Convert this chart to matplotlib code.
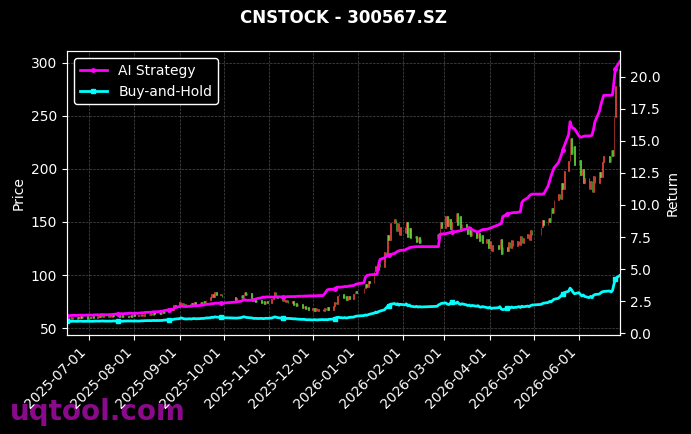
import matplotlib.pyplot as plt
import matplotlib.dates as mdates
import numpy as np
import pandas as pd

# trading calendar (weekdays minus exchange holidays)
start_date = '2025-06-16'
end_date = '2026-06-29'
holidays = ['2025-10-01', '2025-10-02', '2025-10-03', '2025-10-06', '2025-10-07',
            '2025-10-08', '2026-01-01', '2026-01-02', '2026-02-16', '2026-02-17',
            '2026-02-18', '2026-02-19', '2026-02-20', '2026-02-23', '2026-04-06',
            '2026-05-01', '2026-05-04', '2026-05-05', '2026-06-19']

first_open = 58.4
close = [
    57.6, 59.8, 58.2, 60.5, 58.9, 60.8, 59.1, 61.2, 59.6, 60.9,
    58.8, 60.6, 59.3, 61.4, 59.7, 61.6, 60.0, 62.1, 60.3, 61.9,
    60.2, 62.3, 60.6, 62.6, 61.0, 62.4, 60.5, 62.0, 60.1, 61.8,
    60.3, 62.5, 60.8, 62.9, 61.2, 62.7, 60.9, 63.2, 61.5, 63.6,
    61.9, 64.1, 62.4, 64.8, 63.0, 65.2, 63.4, 66.1, 64.3, 67.0,
    65.8, 68.9, 67.2, 71.4, 69.5, 74.6, 71.2, 73.5, 70.6, 72.9,
    70.8, 73.6, 71.3, 74.4, 72.1, 74.9, 72.6, 75.8, 73.4, 76.7,
    78.9, 81.8, 79.2, 83.6, 80.7, 82.3, 79.4, 76.8, 78.3,
    80.9, 78.6, 84.2, 81.0, 83.4, 77.9, 75.6, 77.2, 74.1, 76.0,
    73.6, 75.8, 72.9, 75.4, 73.8, 77.5, 80.2, 83.9, 80.1, 78.0,
    75.2, 77.4, 74.3, 76.5, 73.6, 75.1, 71.8, 73.9, 70.6, 72.4,
    69.1, 71.2, 67.8, 69.5, 66.9, 68.7, 66.2, 68.9, 66.5, 68.3,
    66.0, 69.2, 66.8, 69.9, 67.4, 70.8, 74.9, 72.6, 79.8, 82.5,
    78.4, 80.6, 76.9, 79.8, 77.5, 81.9, 85.3, 83.1,
    87.8, 91.2, 88.4, 94.6, 92.0, 103.5, 108.9, 104.7, 111.6, 107.2,
    121.4, 118.2, 137.5, 133.1, 148.6, 152.4, 141.8, 149.5, 137.6, 145.3,
    139.7, 150.2, 136.3, 143.9, 134.8, 136.9, 131.2, 135.6, 130.4, 134.1,
    138.7, 135.2, 149.6, 144.1,
    155.8, 146.2, 152.9, 143.6, 150.4, 158.9, 147.1, 155.3, 141.8, 148.2,
    143.5, 138.6, 144.9, 136.7, 141.2, 135.3, 139.8, 132.1, 137.4, 130.6,
    133.9, 125.8, 131.7, 122.9, 128.4, 124.6, 133.8, 120.2, 126.7,
    122.8, 131.5, 125.1, 133.2, 127.6, 132.4, 128.3, 136.9, 130.2, 134.8,
    138.6, 133.1, 142.7, 137.5, 145.2, 151.8, 147.4,
    153.9, 149.6, 162.8, 158.2, 170.5, 176.4, 171.3, 186.9, 181.2, 198.5,
    207.8, 229.6, 214.3, 221.7, 203.5, 208.2, 194.6, 200.3, 186.8, 191.9,
    180.7, 188.4, 178.2, 193.6, 187.1, 197.4, 192.3, 206.8, 212.6,
    206.1, 217.4, 211.8, 249.3, 278.6, 294.1,
]

ai_strategy = [
    1.36, 1.37, 1.36, 1.38, 1.39, 1.38, 1.40, 1.41, 1.40, 1.39,
    1.41, 1.42, 1.41, 1.40, 1.42, 1.43, 1.42, 1.44, 1.45, 1.44,
    1.43, 1.45, 1.44, 1.46, 1.47, 1.51, 1.50, 1.52, 1.51, 1.52,
    1.54, 1.56, 1.55, 1.53, 1.55, 1.55, 1.57, 1.59, 1.58, 1.61,
    1.63, 1.62, 1.65, 1.67, 1.66, 1.68, 1.71, 1.70, 1.74, 1.77,
    1.83, 1.86, 1.85, 1.92, 1.98, 2.09, 2.12, 2.10, 2.08, 2.07,
    2.10, 2.09, 2.13, 2.15, 2.14, 2.16, 2.19, 2.18, 2.22, 2.24,
    2.27, 2.31, 2.29, 2.34, 2.33, 2.35, 2.34, 2.42, 2.44,
    2.49, 2.55, 2.62, 2.58, 2.56, 2.57, 2.59, 2.62, 2.66, 2.70,
    2.76, 2.81, 2.80, 2.82, 2.83, 2.82, 2.81, 2.83, 2.82, 2.84,
    2.82, 2.83, 2.82, 2.84, 2.85, 2.85, 2.86, 2.85, 2.87, 2.88,
    2.88, 2.89, 2.90, 2.89, 2.91, 2.91, 2.92, 2.91, 2.92, 2.93,
    2.93, 3.05, 3.22, 3.38, 3.41, 3.42, 3.48, 3.55, 3.60, 3.58,
    3.61, 3.64, 3.63, 3.65, 3.68, 3.72, 3.78, 3.84,
    3.92, 4.35, 4.49, 4.52, 4.55, 4.57, 4.58, 4.60, 5.30, 5.75,
    5.88, 5.96, 6.05, 6.10, 6.14, 6.22, 6.30, 6.38, 6.42, 6.46,
    6.48, 6.55, 6.60, 6.66, 6.70, 6.74, 6.75, 6.75, 6.75, 6.75,
    6.75, 6.75, 7.71, 7.74,
    7.76, 7.80, 7.82, 7.86, 7.90, 7.92, 7.95, 7.97, 8.00, 8.05,
    8.12, 8.20, 8.24, 8.18, 8.06, 7.92, 7.89, 7.95, 8.02, 8.08,
    8.10, 8.14, 8.18, 8.22, 8.27, 8.45, 8.50, 8.55, 9.10,
    9.28, 9.32, 9.35, 9.38, 9.40, 9.42, 9.45, 9.46, 10.20, 10.35,
    10.55, 10.70, 10.80, 10.85, 10.85, 10.85, 10.86,
    11.50, 11.90, 12.28, 12.60, 12.90, 13.30, 13.60, 13.90, 14.30, 14.60,
    15.50, 16.50, 16.10, 16.00, 15.95, 15.40, 15.30, 15.30, 15.35, 15.38,
    15.40, 15.40, 15.45, 15.90, 16.50, 17.30, 17.80, 18.20, 18.56,
    18.56, 18.56, 18.58, 19.60, 20.65, 21.20,
]

buy_and_hold = [
    0.91, 0.92, 0.91, 0.92, 0.93, 0.92, 0.93, 0.94, 0.93, 0.92,
    0.93, 0.94, 0.93, 0.92, 0.93, 0.94, 0.93, 0.94, 0.95, 0.94,
    0.93, 0.94, 0.93, 0.94, 0.95, 0.94, 0.93, 0.94, 0.93, 0.94,
    0.95, 0.96, 0.95, 0.94, 0.95, 0.94, 0.95, 0.96, 0.96, 0.97,
    0.98, 0.97, 0.98, 0.99, 0.98, 0.99, 1.00, 0.99, 1.01, 1.02,
    1.04, 1.06, 1.05, 1.08, 1.10, 1.13, 1.19, 1.15, 1.12, 1.10,
    1.12, 1.10, 1.13, 1.14, 1.12, 1.13, 1.15, 1.14, 1.16, 1.18,
    1.20, 1.24, 1.22, 1.27, 1.25, 1.23, 1.21, 1.18, 1.17,
    1.21, 1.25, 1.28, 1.24, 1.22, 1.19, 1.17, 1.14, 1.16, 1.14,
    1.15, 1.13, 1.14, 1.16, 1.15, 1.18, 1.22, 1.27, 1.24, 1.21,
    1.17, 1.15, 1.16, 1.14, 1.15, 1.13, 1.11, 1.12, 1.10, 1.09,
    1.07, 1.08, 1.06, 1.04, 1.05, 1.03, 1.05, 1.04, 1.03, 1.04,
    1.06, 1.04, 1.06, 1.04, 1.07, 1.10, 1.14, 1.20, 1.24, 1.22,
    1.19, 1.21, 1.18, 1.20, 1.23, 1.25, 1.30, 1.33,
    1.37, 1.42, 1.39, 1.44, 1.48, 1.56, 1.64, 1.60, 1.68, 1.72,
    1.82, 1.94, 2.06, 2.15, 2.25, 2.31, 2.23, 2.29, 2.18, 2.25,
    2.20, 2.29, 2.13, 2.20, 2.10, 2.05, 2.09, 2.03, 2.07, 2.04,
    2.09, 2.20, 2.25, 2.32,
    2.36, 2.27, 2.23, 2.32, 2.39, 2.33, 2.43, 2.30, 2.24, 2.29,
    2.21, 2.15, 2.19, 2.12, 2.16, 2.10, 2.14, 2.05, 2.02, 2.07,
    2.00, 1.96, 2.02, 1.92, 1.95, 1.98, 2.06, 1.87, 1.83,
    1.93, 2.01, 1.96, 2.04, 1.99, 2.03, 2.07, 2.00, 2.10, 2.05,
    2.11, 2.07, 2.15, 2.19, 2.24, 2.30, 2.34,
    2.39, 2.47, 2.44, 2.55, 2.64, 2.72, 2.82, 2.94, 3.06, 3.16,
    3.27, 3.51, 3.38, 3.19, 3.07, 3.16, 3.02, 2.90, 2.98, 2.86,
    2.77, 2.87, 2.76, 2.95, 3.01, 3.05, 3.15, 3.22, 3.25,
    3.29, 3.21, 3.33, 3.82, 4.26, 4.50,
]

dates = pd.bdate_range(start_date, end_date)
dates = dates[~dates.isin(pd.to_datetime(holidays))]

close = np.array(close)
opens = np.concatenate([[first_open], close[:-1]])
up = close >= opens
candle_colors = np.where(up, '#ff4d40', '#66ee44')

fig = plt.figure(figsize=(6.91, 4.34), dpi=100, facecolor='black')
ax = fig.add_axes([0.097, 0.228, 0.8, 0.654])
ax.set_facecolor('black')

ax.bar(dates, np.abs(close - opens), bottom=np.minimum(opens, close), width=0.45,
       color=candle_colors, edgecolor=candle_colors, linewidth=0.4)

ax2 = ax.twinx()
ax2.plot(dates, ai_strategy, color='#ff00ff', lw=2, marker='o', markersize=2.5,
         markevery=25, label='AI Strategy')
ax2.plot(dates, buy_and_hold, color='#00ffff', lw=2, marker='s', markersize=3,
         markevery=25, label='Buy-and-Hold')

ax.set_xlim(dates[0], dates[-1])
ax.set_ylim(43.4, 311)
ax2.set_ylim(-0.15, 22.0)

ax.xaxis.set_major_locator(mdates.MonthLocator())
ax.xaxis.set_major_formatter(mdates.DateFormatter('%Y-%m-%d'))
plt.setp(ax.get_xticklabels(), rotation=45, ha='right')

ax.grid(True, color='gray', linestyle='--', linewidth=0.5, alpha=0.6)
ax.set_axisbelow(True)

for a in (ax, ax2):
    a.tick_params(colors='white', labelsize=10)
    for s in a.spines.values():
        s.set_color('white')
ax.set_ylabel('Price', color='white', fontsize=10)
ax2.set_ylabel('Return', color='white', fontsize=10)

leg = ax2.legend(loc='upper left', facecolor='black', edgecolor='white',
                 fontsize=10, framealpha=1)
for t in leg.get_texts():
    t.set_color('white')

ax.set_title('CNSTOCK - 300567.SZ', color='white', fontweight='bold',
             fontsize=12, pad=20)

fig.text(0.014, 0.032, 'uqtool.com', fontsize=20, fontweight='bold',
         color='#8b0a8b', zorder=-1)

fig.savefig('out.png', dpi=100, facecolor='black')
